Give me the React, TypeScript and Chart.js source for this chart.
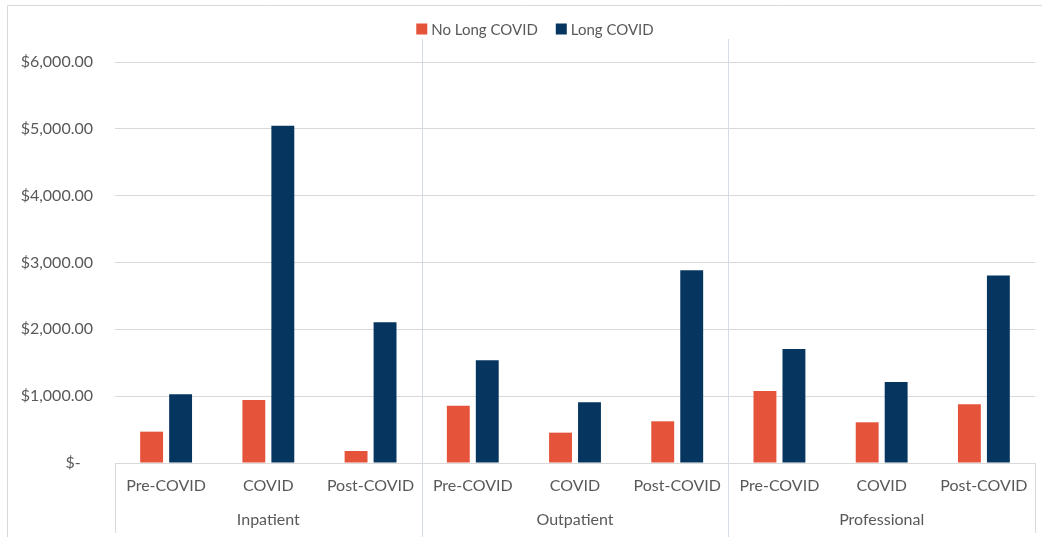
import React, { useEffect, useRef } from "react";
import { Chart, registerables } from "chart.js";

Chart.register(...registerables);

const subCategories = [
  "Pre-COVID", "COVID", "Post-COVID",
  "Pre-COVID", "COVID", "Post-COVID",
  "Pre-COVID", "COVID", "Post-COVID",
];
const groups = ["Inpatient", "Outpatient", "Professional"];
const groupSize = 3;
const noLongCovid = [469, 943, 180, 858, 454, 624, 1078, 609, 879];
const longCovid = [1028, 5045, 2106, 1537, 909, 2885, 1707, 1213, 2804];
const seriesNames = ["No Long COVID", "Long COVID"];
const seriesColors = ["#E5533A", "#063660"];
const yTicks = [0, 1000, 2000, 3000, 4000, 5000, 6000];

const FONT = "Lato";
const TEXT = "#595959";

const fmt = (v: number) =>
  v === 0
    ? "$-   "
    : "$" + v.toLocaleString("en-US", { minimumFractionDigits: 2, maximumFractionDigits: 2 });

const decorPlugin = {
  id: "decor",
  beforeDraw(chart: any) {
    const ctx = chart.ctx;
    const ca = chart.chartArea;
    const x = chart.scales.x;
    ctx.save();
    // chart border
    ctx.strokeStyle = "#D9D9D9";
    ctx.lineWidth = 1;
    ctx.beginPath();
    ctx.moveTo(7.5, chart.height);
    ctx.lineTo(7.5, 5.5);
    ctx.lineTo(chart.width, 5.5);
    ctx.stroke();
    ctx.restore();
  },
  afterDraw(chart: any) {
    const ctx = chart.ctx;
    const ca = chart.chartArea;
    const x = chart.scales.x;
    const boxBottom = 533;
    ctx.save();
    ctx.lineWidth = 1;
    // axis box edges
    ctx.strokeStyle = "#D9D9D9";
    ctx.beginPath();
    ctx.moveTo(Math.round(ca.left) + 0.5, ca.bottom);
    ctx.lineTo(Math.round(ca.left) + 0.5, boxBottom);
    ctx.moveTo(Math.round(ca.right) + 0.5, ca.bottom);
    ctx.lineTo(Math.round(ca.right) + 0.5, boxBottom);
    ctx.stroke();
    // group separators
    ctx.strokeStyle = "#D6DCE5";
    for (let g = 1; g < groups.length; g++) {
      const i = g * groupSize;
      const px = Math.round((x.getPixelForValue(i - 1) + x.getPixelForValue(i)) / 2) + 0.5;
      ctx.beginPath();
      ctx.moveTo(px, 39);
      ctx.lineTo(px, boxBottom + 4);
      ctx.stroke();
    }
    // group labels
    ctx.fillStyle = TEXT;
    ctx.font = `16px ${FONT}`;
    ctx.textAlign = "center";
    ctx.textBaseline = "middle";
    groups.forEach((g, gi) => {
      const a = x.getPixelForValue(gi * groupSize);
      const b = x.getPixelForValue(gi * groupSize + groupSize - 1);
      ctx.fillText(g, (a + b) / 2, 520);
    });
    // legend
    ctx.font = `15px ${FONT}`;
    ctx.textAlign = "left";
    const box = 11;
    const gapText = 4;
    const gapItem = 18;
    const widths = seriesNames.map((n) => box + gapText + ctx.measureText(n).width);
    const total = widths.reduce((s, w) => s + w, 0) + gapItem * (widths.length - 1);
    let lx = 535 - total / 2;
    const ly = 29;
    seriesNames.forEach((n, i) => {
      ctx.fillStyle = seriesColors[i];
      ctx.fillRect(lx, ly - box / 2, box, box);
      ctx.fillStyle = TEXT;
      ctx.fillText(n, lx + box + gapText, ly + 1);
      lx += widths[i] + gapItem;
    });
    ctx.restore();
  },
};

export default function App() {
  const ref = useRef<HTMLCanvasElement>(null);
  useEffect(() => {
    document.body.style.margin = "0";
    const chart = new Chart(ref.current as HTMLCanvasElement, {
      type: "bar",
      data: {
        labels: subCategories,
        datasets: [
          { label: seriesNames[0], data: noLongCovid, backgroundColor: seriesColors[0] },
          { label: seriesNames[1], data: longCovid, backgroundColor: seriesColors[1] },
        ],
      },
      options: {
        responsive: false,
        animation: false,
        layout: { padding: { top: 62, right: 7, left: 0, bottom: 0 } },
        categoryPercentage: 0.567,
        barPercentage: 0.79,
        plugins: { legend: { display: false }, tooltip: { enabled: false } },
        scales: {
          x: {
            grid: { display: false, drawTicks: false },
            border: { display: true, color: "#D9D9D9" },
            ticks: {
              color: TEXT,
              font: { family: FONT, size: 16 },
              padding: 13,
              maxRotation: 0,
              autoSkip: false,
            },
            afterFit: (s: any) => {
              s.height = 74;
            },
          },
          y: {
            min: 0,
            max: 6000,
            afterBuildTicks: (s: any) => {
              s.ticks = yTicks.map((v) => ({ value: v }));
            },
            grid: { color: "#D9D9D9", drawTicks: false },
            border: { display: false },
            ticks: {
              color: TEXT,
              font: { family: FONT, size: 16 },
              padding: 22,
              callback: (v: any) => fmt(Number(v)),
            },
            afterFit: (s: any) => {
              s.width = 115;
            },
          },
        },
      } as any,
      plugins: [decorPlugin],
    });
    return () => chart.destroy();
  }, []);
  return <canvas ref={ref} width={1042} height={537} style={{ display: "block" }} />;
}
